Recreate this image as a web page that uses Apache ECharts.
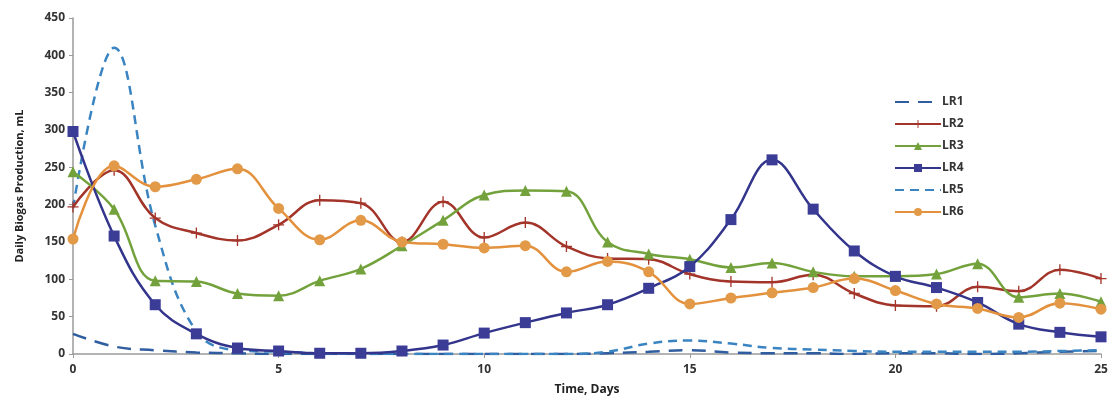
<!DOCTYPE html>
<html>
<head>
<meta charset="utf-8">
<script src="https://cdn.jsdelivr.net/npm/echarts@6/dist/echarts.min.js"></script>
<style>
html,body{margin:0;padding:0;background:#fff;}
#c{width:1114px;height:407px;}
</style>
</head>
<body>
<div id="c"></div>
<script>
const days = [0,1,2,3,4,5,6,7,8,9,10,11,12,13,14,15,16,17,18,19,20,21,22,23,24,25];
const LR1 = [27,10,5,2,1,0,0,0,0,0,0,0,0,1,3,5,2,1,1,0,1,1,0,1,3,4];
const LR2 = [197,246,182,162,152,173,206,202,150,204,156,176,144,128,127,107,97,96,106,81,65,64,90,84,113,101];
const LR3 = [244,194,98,97,81,78,98,114,145,179,213,219,218,150,134,127,116,122,110,104,104,107,121,76,81,70];
const LR4 = [298,158,66,27,8,4,1,1,4,12,28,42,55,66,88,117,180,260,194,138,104,89,69,40,29,23];
const LR5 = [195,410,172,30,5,3,1,0,0,0,0,0,0,3,14,18,14,8,6,4,3,3,3,3,4,5];
const LR6 = [154,252,224,234,248,195,153,179,150,147,142,145,110,124,110,67,75,82,89,101,85,67,61,49,68,60];
const xTicks = [0,5,10,15,20,25];
const yTicks = [0,50,100,150,200,250,300,350,400,450];
const names = ['LR1','LR2','LR3','LR4','LR5','LR6'];

const pair = arr => days.map((d,i)=>[d,arr[i]]);
const plus = 'path://M4.4,0h1.2v4.4h4.4v1.2h-4.4v4.4h-1.2v-4.4h-4.4v-1.2h4.4z';
const FONT = 'Open Sans';

const chart = echarts.init(document.getElementById('c'));
chart.setOption({
  animation:false,
  backgroundColor:'#fff',
  grid:{left:73,right:13,top:18,bottom:53},
  legend:{
    orient:'vertical', left:889, top:91,
    itemWidth:46, itemHeight:10, itemGap:10,
    textStyle:{fontFamily:FONT,fontSize:12,fontWeight:'bold',color:'#333',padding:[0,0,0,-4]},
    data:names.map(n => (n==='LR1'||n==='LR5') ? {name:n,itemStyle:{opacity:0}} : {name:n})
  },
  xAxis:{
    type:'value', min:xTicks[0], max:xTicks[xTicks.length-1], interval:5,
    name:'Time, Days', nameLocation:'middle', nameGap:30,
    nameTextStyle:{fontFamily:FONT,fontSize:12,fontWeight:'bold',color:'#222'},
    axisLine:{lineStyle:{color:'#9a9a9a',width:1.5}},
    axisTick:{show:true,length:4,lineStyle:{color:'#9a9a9a'}},
    axisLabel:{fontFamily:FONT,fontSize:12,fontWeight:'bold',color:'#333',margin:10},
    splitLine:{show:false}
  },
  yAxis:{
    type:'value', min:yTicks[0], max:yTicks[yTicks.length-1], interval:50,
    name:'Daily Biogas Production, mL', nameLocation:'middle', nameGap:48,
    nameTextStyle:{fontFamily:FONT,fontSize:11,fontWeight:'bold',color:'#222'},
    axisLine:{show:true,lineStyle:{color:'#9a9a9a',width:1.5}},
    axisTick:{show:true,length:4,lineStyle:{color:'#9a9a9a'}},
    axisLabel:{fontFamily:FONT,fontSize:12,fontWeight:'bold',color:'#333',margin:8},
    splitLine:{show:false}
  },
  series:[
    {name:'LR1',type:'line',data:pair(LR1),smooth:0.4,symbol:'none',z:2,
      lineStyle:{color:'#2f5d9f',width:2.5,type:[14,9]},itemStyle:{color:'#2f5d9f'}},
    {name:'LR2',type:'line',data:pair(LR2),smooth:0.4,symbol:plus,symbolSize:11,z:3,
      lineStyle:{color:'#a3342a',width:2.5},itemStyle:{color:'#a3342a'}},
    {name:'LR3',type:'line',data:pair(LR3),smooth:0.4,symbol:'triangle',symbolSize:11,z:4,
      lineStyle:{color:'#73a23c',width:2.5},itemStyle:{color:'#73a23c'}},
    {name:'LR4',type:'line',data:pair(LR4),smooth:0.4,symbol:'rect',symbolSize:11,z:5,
      lineStyle:{color:'#33358c',width:2.5},itemStyle:{color:'#3a3c96'}},
    {name:'LR5',type:'line',data:pair(LR5),smooth:0.4,symbol:'none',z:2,
      lineStyle:{color:'#3b84c2',width:2.5,type:[9,6]},itemStyle:{color:'#3b84c2'}},
    {name:'LR6',type:'line',data:pair(LR6),smooth:0.4,symbol:'circle',symbolSize:11,z:6,
      lineStyle:{color:'#e3913c',width:2.5},itemStyle:{color:'#e39a48'}}
  ]
});
</script>
</body>
</html>
